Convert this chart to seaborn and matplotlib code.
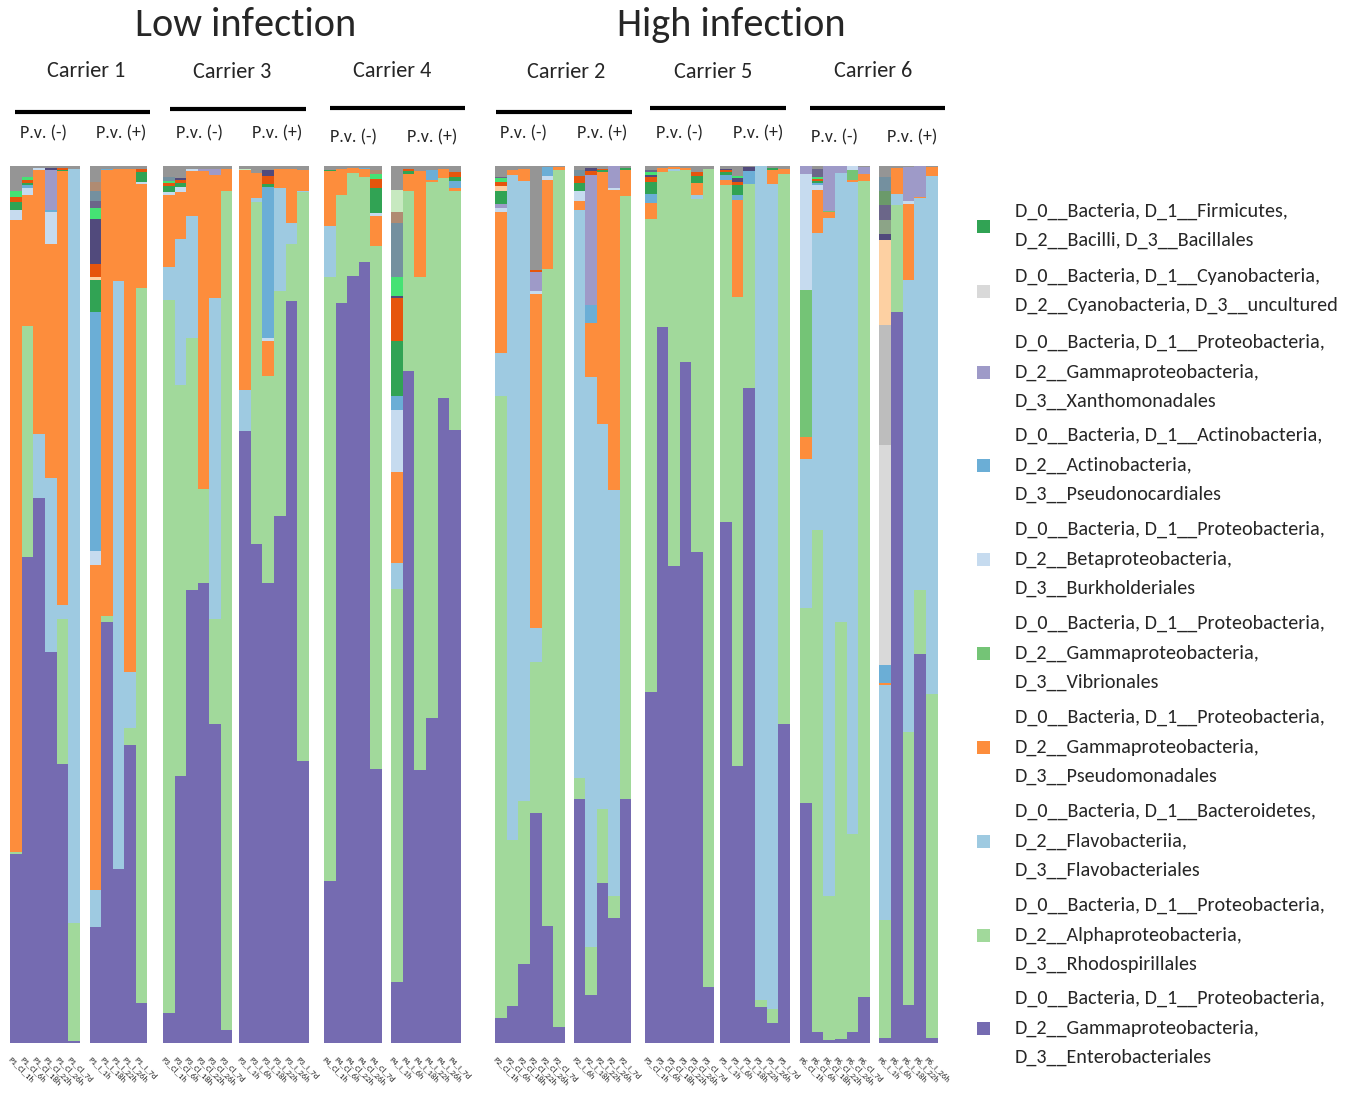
import matplotlib
matplotlib.use("Agg")
import matplotlib.pyplot as plt
import pandas as pd
import seaborn as sns
from matplotlib import font_manager as fm
from matplotlib.lines import Line2D
from matplotlib.patches import Rectangle

# ---------------------------------------------------------------- samples
panels = [
    ("P1", "Cl", ["1h", "6h", "18h", "22h", "26h", "7d"]),
    ("P1", "I", ["1h", "18h", "22h", "26h", "7d"]),
    ("P3", "Cl", ["1h", "6h", "18h", "22h", "26h", "7d"]),
    ("P3", "I", ["1h", "6h", "18h", "22h", "26h", "7d"]),
    ("P4", "Cl", ["1h", "6h", "22h", "26h", "7d"]),
    ("P4", "I", ["1h", "6h", "18h", "22h", "26h", "7d"]),
    ("P2", "Cl", ["1h", "6h", "18h", "22h", "26h", "7d"]),
    ("P2", "I", ["6h", "18h", "22h", "26h", "7d"]),
    ("P5", "Cl", ["1h", "6h", "18h", "22h", "26h", "7d"]),
    ("P5", "I", ["1h", "6h", "18h", "22h", "26h", "7d"]),
    ("P6", "Cl", ["1h", "6h", "18h", "22h", "26h", "7d"]),
    ("P6", "I", ["1h", "6h", "18h", "22h", "26h"]),
]
samples = [f"{p}_{c}_{t}" for p, c, ts in panels for t in ts]

# ------------------------------------------------- relative abundances
# dominant orders, one value per sample (sample order above)
enterobacteriales = [
    .215, .554, .621, .446, .318, .002,   # P1 Cl
    .132, .480, .198, .340, .046,         # P1 I
    .034, .305, .516, .524, .364, .015,   # P3 Cl
    .698, .569, .524, .601, .846, .321,   # P3 I
    .185, .844, .875, .891, .312,         # P4 Cl
    .069, .766, .311, .371, .736, .699,   # P4 I
    .029, .042, .090, .262, .133, .018,   # P2 Cl
    .278, .055, .182, .143, .278,         # P2 I
    .400, .816, .544, .776, .560, .064,   # P5 Cl
    .594, .316, .747, .041, .023, .364,   # P5 I
    .274, .013, .003, .005, .013, .052,   # P6 Cl
    .006, .834, .043, .443, .006,         # P6 I
]
rhodospirillales = [
    .003, .263, 0, 0, .165, .135,
    0, .007, 0, .019, .815,
    .813, .445, .288, .108, .119, .956,
    0, .390, .236, .256, .065, .649,
    .689, .123, .117, .096, .597,
    .449, .206, .563, .611, .250, .273,
    .709, .189, .186, .173, .750, .978,
    .024, .055, .085, .025, .688,
    .539, .177, .450, .219, .402, .933,
    .384, .535, .233, .008, .016, .627,
    .222, .572, .165, .475, .225, .931,
    .134, .122, .312, .074, .392,
]
flavobacteriales = [
    0, 0, .073, .198, .017, .860,
    .042, 0, .671, .064, 0,
    .038, .167, .139, 0, .366, 0,
    .047, .005, 0, .118, .024, .002,
    .058, 0, 0, 0, 0,
    .029, 0, 0, 0, 0, 0,
    .049, .759, .707, .038, 0, 0,
    .648, .649, .439, .463, 0,
    0, 0, .003, 0, .005, 0,
    0, 0, 0, .951, .940, 0,
    .170, .339, .773, .512, .744, 0,
    .268, .012, .515, .447, .591,
]
pseudomonadales = [
    .720, .150, .301, .267, .494, 0,
    .371, .508, .128, .574, .118,
    .082, .053, .051, .362, .141, .026,
    .250, .028, .041, .022, .062, .024,
    .062, .030, .006, .010, .034,
    .104, .019, .120, .002, .011, .003,
    .160, .006, .014, .381, .101, .003,
    .010, .062, .287, .342, .030,
    .019, .005, .002, .003, .014, 0,
    .006, .110, 0, 0, .017, .006,
    .025, .049, .006, 0, .002, .008,
    .002, .030, .087, .001, .010,
]

# sparse orders: sample -> value
vibrionales = {"P6_Cl_1h": .168, "P6_Cl_18h": .002, "P6_Cl_26h": .012}
burkholderiales = {
    "P1_Cl_1h": .012, "P1_Cl_6h": .008, "P1_Cl_18h": .003, "P1_Cl_22h": .036,
    "P1_I_1h": .016, "P1_I_7d": .003, "P3_Cl_1h": .003, "P3_Cl_6h": .006,
    "P3_Cl_18h": .003, "P3_I_18h": .003, "P4_Cl_7d": .003, "P4_I_1h": .071,
    "P2_Cl_1h": .005, "P2_Cl_22h": .004, "P2_Cl_26h": .005, "P2_I_6h": .011,
    "P2_I_26h": .002, "P6_Cl_1h": .132, "P6_Cl_6h": .005, "P6_Cl_26h": .004,
    "P6_I_18h": .003,
}
pseudonocardiales = {
    "P1_Cl_6h": .003, "P1_Cl_22h": .003, "P1_I_1h": .273, "P1_I_18h": .002,
    "P3_I_18h": .172, "P4_Cl_26h": .001, "P4_I_1h": .016, "P4_I_22h": .012,
    "P4_I_7d": .008, "P2_Cl_26h": .010, "P2_I_18h": .021, "P5_Cl_1h": .010,
    "P5_I_1h": .006, "P5_I_6h": .006, "P5_I_18h": .014, "P6_Cl_6h": .003,
    "P6_I_1h": .021,
}
xanthomonadales = {
    "P1_Cl_22h": .045, "P3_Cl_22h": .003, "P3_Cl_26h": .007, "P2_Cl_1h": .005,
    "P2_Cl_22h": .021, "P2_I_18h": .148, "P2_I_26h": .025, "P6_Cl_1h": .009,
    "P6_Cl_18h": .051, "P6_Cl_22h": .008, "P6_Cl_7d": .008, "P6_I_18h": .039,
    "P6_I_22h": .035,
}
cyanobacteria = {"P6_I_1h": .251}
bacillales = {
    "P1_Cl_1h": .009, "P1_Cl_6h": .003, "P1_Cl_26h": .002, "P1_I_1h": .036,
    "P1_I_7d": .011, "P3_Cl_1h": .007, "P3_Cl_6h": .005, "P3_I_18h": .004,
    "P4_Cl_1h": .002, "P4_Cl_7d": .029, "P4_I_1h": .062, "P4_I_6h": .003,
    "P4_I_7d": .005, "P2_Cl_1h": .015, "P2_I_6h": .010, "P2_I_22h": .002,
    "P2_I_7d": .002, "P5_Cl_1h": .014, "P5_Cl_26h": .008, "P5_I_1h": .003,
    "P5_I_6h": .011, "P5_I_26h": .002, "P6_Cl_6h": .002,
}

# low-abundance orders outside the legend
minor_silver = {"P6_I_1h": .137}
minor_peach = {"P1_I_1h": .003, "P2_Cl_1h": .005, "P6_I_1h": .097}
minor_darkorange = {
    "P1_Cl_1h": .006, "P1_Cl_6h": .003, "P1_Cl_26h": .002, "P1_I_1h": .015,
    "P1_I_7d": .004, "P3_Cl_1h": .004, "P3_Cl_6h": .003, "P3_I_18h": .009,
    "P4_Cl_7d": .010, "P4_I_1h": .050, "P4_I_6h": .003, "P4_I_7d": .005,
    "P2_Cl_1h": .005, "P2_Cl_22h": .002, "P2_I_6h": .008, "P2_I_18h": .004,
    "P2_I_22h": .002, "P5_Cl_1h": .005, "P5_Cl_26h": .004, "P5_I_1h": .002,
    "P5_I_6h": .004, "P6_Cl_6h": .002,
}
minor_slate = {
    "P1_Cl_22h": .003, "P1_I_1h": .052, "P3_Cl_6h": .002, "P3_I_18h": .007,
    "P4_I_1h": .002, "P2_I_18h": .004, "P5_Cl_1h": .003, "P5_I_1h": .002,
    "P5_I_6h": .004, "P5_I_18h": .005, "P6_I_1h": .006,
}
minor_brightgreen = {
    "P1_Cl_1h": .006, "P1_Cl_6h": .004, "P1_I_1h": .012, "P3_Cl_1h": .002,
    "P4_Cl_7d": .006, "P4_I_1h": .021, "P2_Cl_1h": .004, "P5_Cl_1h": .003,
    "P5_I_6h": .003, "P6_Cl_6h": .002,
}
minor_sage = {"P6_I_1h": .016}
minor_mauve = {"P1_I_1h": .008, "P2_Cl_1h": .002, "P5_Cl_1h": .003,
               "P6_Cl_6h": .010, "P6_I_1h": .017}
minor_moss = {"P6_I_1h": .016}
minor_steel = {"P1_I_1h": .012, "P3_Cl_1h": .004, "P2_I_6h": .006,
               "P4_I_1h": .062, "P6_I_1h": .016}
minor_brown = {"P1_I_1h": .010, "P4_Cl_7d": .004, "P4_I_1h": .013}
minor_palegreen = {"P3_I_1h": .002, "P4_I_1h": .025}
minor_gray = {
    "P1_Cl_1h": .029, "P1_Cl_6h": .012, "P1_Cl_18h": .002, "P1_Cl_22h": .002,
    "P1_Cl_26h": .002, "P1_Cl_7d": .003,
    "P1_I_1h": .018, "P1_I_18h": .003, "P1_I_22h": .003, "P1_I_26h": .003,
    "P1_I_7d": .003,
    "P3_Cl_1h": .013, "P3_Cl_6h": .014, "P3_Cl_18h": .003, "P3_Cl_22h": .003,
    "P3_Cl_26h": .003, "P3_Cl_7d": .003,
    "P3_I_1h": .003, "P3_I_6h": .008, "P3_I_18h": .004, "P3_I_22h": .003,
    "P3_I_26h": .003, "P3_I_7d": .004,
    "P4_Cl_1h": .004, "P4_Cl_6h": .003, "P4_Cl_22h": .002, "P4_Cl_26h": .002,
    "P4_Cl_7d": .005,
    "P4_I_1h": .027, "P4_I_6h": .003, "P4_I_18h": .006, "P4_I_22h": .004,
    "P4_I_26h": .003, "P4_I_7d": .007,
    "P2_Cl_1h": .012, "P2_Cl_6h": .004, "P2_Cl_18h": .003, "P2_Cl_22h": .119,
    "P2_Cl_26h": .001, "P2_Cl_7d": .001,
    "P2_I_6h": .005, "P2_I_18h": .002, "P2_I_22h": .003, "P2_I_7d": .002,
    "P5_Cl_1h": .004, "P5_Cl_6h": .002, "P5_Cl_18h": .001, "P5_Cl_22h": .002,
    "P5_Cl_26h": .007, "P5_Cl_7d": .003,
    "P5_I_1h": .003, "P5_I_6h": .011, "P5_I_18h": .001, "P5_I_26h": .002,
    "P5_I_7d": .003,
    "P6_Cl_6h": .003, "P6_Cl_7d": .001,
    "P6_I_1h": .013, "P6_I_6h": .002, "P6_I_18h": .001, "P6_I_26h": .001,
}

# stacking order, bottom to top
layers = [
    ("Enterobacteriales", dict(zip(samples, enterobacteriales)), "#756bb1"),
    ("Rhodospirillales", dict(zip(samples, rhodospirillales)), "#a1d99b"),
    ("Flavobacteriales", dict(zip(samples, flavobacteriales)), "#9ecae1"),
    ("Pseudomonadales", dict(zip(samples, pseudomonadales)), "#fd8d3c"),
    ("Vibrionales", vibrionales, "#74c476"),
    ("Burkholderiales", burkholderiales, "#c6dbef"),
    ("Pseudonocardiales", pseudonocardiales, "#6baed6"),
    ("Xanthomonadales", xanthomonadales, "#9e9ac8"),
    ("Cyanobacteria", cyanobacteria, "#d9d9d9"),
    ("Bacillales", bacillales, "#31a354"),
    ("minor_silver", minor_silver, "#bdbdbd"),
    ("minor_peach", minor_peach, "#fdd0a2"),
    ("minor_darkorange", minor_darkorange, "#e6550d"),
    ("minor_slate", minor_slate, "#514a7c"),
    ("minor_brightgreen", minor_brightgreen, "#45e274"),
    ("minor_sage", minor_sage, "#8ca487"),
    ("minor_mauve", minor_mauve, "#6b6689"),
    ("minor_moss", minor_moss, "#6b9a6a"),
    ("minor_steel", minor_steel, "#74909f"),
    ("minor_brown", minor_brown, "#b08b72"),
    ("minor_palegreen", minor_palegreen, "#c7e9c0"),
    ("minor_gray", minor_gray, "#959595"),
]
palette = {name: col for name, _, col in layers}
hue_top_down = [name for name, _, _ in layers][::-1]

rows = []
for p, c, ts in panels:
    for i, t in enumerate(ts):
        s = f"{p}_{c}_{t}"
        for name, vals, _ in layers:
            rows.append({"panel": f"{p}_{c}", "sample": s, "pos": i,
                         "taxon": name, "value": vals.get(s, 0.0)})
df = pd.DataFrame(rows)

legend_entries = [
    ("Bacillales", "D_0__Bacteria, D_1__Firmicutes,\nD_2__Bacilli, D_3__Bacillales", 226),
    ("Cyanobacteria", "D_0__Bacteria, D_1__Cyanobacteria,\nD_2__Cyanobacteria, D_3__uncultured", 291),
    ("Xanthomonadales", "D_0__Bacteria, D_1__Proteobacteria,\nD_2__Gammaproteobacteria,\nD_3__Xanthomonadales", 372),
    ("Pseudonocardiales", "D_0__Bacteria, D_1__Actinobacteria,\nD_2__Actinobacteria,\nD_3__Pseudonocardiales", 465),
    ("Burkholderiales", "D_0__Bacteria, D_1__Proteobacteria,\nD_2__Betaproteobacteria,\nD_3__Burkholderiales", 559),
    ("Vibrionales", "D_0__Bacteria, D_1__Proteobacteria,\nD_2__Gammaproteobacteria,\nD_3__Vibrionales", 653),
    ("Pseudomonadales", "D_0__Bacteria, D_1__Proteobacteria,\nD_2__Gammaproteobacteria,\nD_3__Pseudomonadales", 747),
    ("Flavobacteriales", "D_0__Bacteria, D_1__Bacteroidetes,\nD_2__Flavobacteriia,\nD_3__Flavobacteriales", 841),
    ("Rhodospirillales", "D_0__Bacteria, D_1__Proteobacteria,\nD_2__Alphaproteobacteria,\nD_3__Rhodospirillales", 935),
    ("Enterobacteriales", "D_0__Bacteria, D_1__Proteobacteria,\nD_2__Gammaproteobacteria,\nD_3__Enterobacteriales", 1028),
]

# ---------------------------------------------------------------- fonts
available = {f.name for f in fm.fontManager.ttflist}


def pick(*names):
    for n in names:
        if n in available:
            return n
    return "DejaVu Sans"


head_font = pick("Carlito", "Lato", "Open Sans")
legend_font = pick("Liberation Sans Narrow", "Carlito", "Lato")

sns.set_theme(style="white")
plt.rcParams["font.family"] = [head_font, "DejaVu Sans"]

W, H = 1349, 1096
fig = plt.figure(figsize=(W / 100, H / 100), dpi=100)
fig.patch.set_facecolor("white")


def fx(px):
    return px / W


def fy(py):
    return 1 - py / H


panel_px = [(10, 80), (90, 147), (163, 232), (239, 309), (324, 382), (391, 461),
            (495, 565), (574, 631), (645, 714), (720, 790), (800, 870), (879, 938)]
bar_top, bar_bottom = 166, 1043

for (p, c, ts), (x0, x1) in zip(panels, panel_px):
    ax = fig.add_axes([fx(x0), fy(bar_bottom), (x1 - x0) / W, (bar_bottom - bar_top) / H])
    sub = df[df["panel"] == f"{p}_{c}"]
    sns.histplot(data=sub, x="pos", weights="value", hue="taxon",
                 hue_order=hue_top_down, palette=palette, multiple="stack",
                 discrete=True, shrink=1.0, alpha=1, linewidth=0,
                 legend=False, ax=ax)
    ax.set_xlim(-0.5, len(ts) - 0.5)
    ax.set_ylim(0, 1)
    ax.set_yticks([])
    ax.set_xticks([i - 0.3 for i in range(len(ts))])
    ax.set_xticklabels([f"{p}_{c}_{t}" for t in ts], rotation=-45, ha="left",
                       rotation_mode="anchor", fontsize=6.2)
    ax.tick_params(axis="x", length=0, pad=9)
    ax.set_xlabel("")
    ax.set_ylabel("")
    for sp in ax.spines.values():
        sp.set_visible(False)
    ax.set_facecolor("white")

# group headings
fig.text(fx(246), fy(25), "Low infection", ha="center", va="center", fontsize=29)
fig.text(fx(731), fy(25), "High infection", ha="center", va="center", fontsize=29)

carriers = [("Carrier 1", 86, 71, 15, 150, 112), ("Carrier 3", 232, 72, 170, 306, 109),
            ("Carrier 4", 392, 71, 330, 465, 108), ("Carrier 2", 566, 72, 496, 632, 112),
            ("Carrier 5", 713, 72, 650, 786, 108), ("Carrier 6", 873, 71, 810, 945, 108)]
for label, cx, cy, lx0, lx1, ly in carriers:
    fig.text(fx(cx), fy(cy), label, ha="center", va="center", fontsize=16)
    fig.add_artist(Line2D([fx(lx0), fx(lx1)], [fy(ly), fy(ly)], color="black",
                          lw=3, solid_capstyle="butt"))

pv = [(43, 133, "-"), (121, 133, "+"), (199, 133, "-"), (277, 133, "+"),
      (353, 137, "-"), (432, 137, "+"), (524, 133, "-"), (602, 133, "+"),
      (680, 133, "-"), (758, 133, "+"), (834, 137, "-"), (912, 137, "+")]
for x, y, sgn in pv:
    fig.text(fx(x), fy(y), f"P.v. ({sgn})", ha="center", va="center", fontsize=13)

# legend
for name, text, cy in legend_entries:
    fig.add_artist(Rectangle((fx(977), fy(cy + 6.5)), 13 / W, 13 / H,
                             transform=fig.transFigure, facecolor=palette[name],
                             edgecolor="none"))
    fig.text(fx(1015), fy(cy), text, ha="left", va="center", fontsize=14.5,
             linespacing=1.85, family=[legend_font, "DejaVu Sans"])

fig.savefig("out.png", dpi=100, facecolor="white")
